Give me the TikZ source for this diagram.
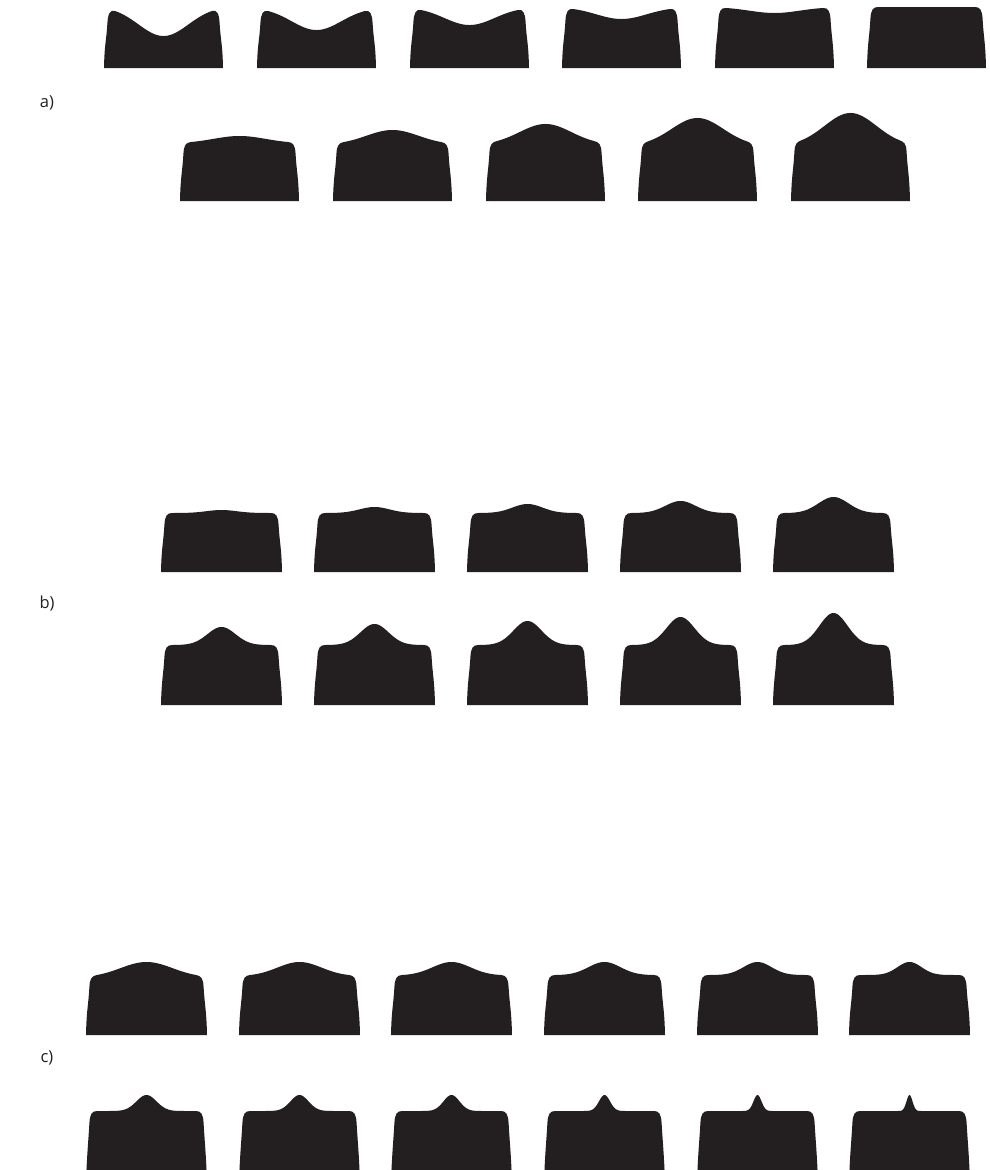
\documentclass[tikz,border=0pt]{standalone}
\usepackage{fontspec}
\setmainfont{Open Sans}
\definecolor{ink}{HTML}{231F20}
\tikzset{
  toothfill/.style={fill=ink},
  lbl/.style={text=ink, font=\fontsize{16.5}{19}\selectfont, inner sep=0pt}
}
% #1 left x, #2 width, #3 bottom y, #4 edge y, #5 centre y, #6 sigma
\newcommand{\tooth}[6]{%
  \pgfmathsetmacro{\tL}{#1}%
  \pgfmathsetmacro{\tR}{#1+#2}%
  \pgfmathsetmacro{\tLa}{#1+11}%
  \pgfmathsetmacro{\tRb}{#1+#2-11}%
  \pgfmathsetmacro{\tc}{#1+#2/2}%
  \pgfmathsetmacro{\th}{#2/2-11}%
  \pgfmathsetmacro{\tge}{exp(-(\th*\th)/(2*#6*#6))}%
  \pgfmathsetmacro{\tA}{(#4-#5)/(1-\tge)}%
  \pgfmathsetmacro{\tys}{#4+\tA*\tge}%
  \pgfmathsetmacro{\tyc}{#4+5*\tA*\tge*\th/(#6*#6)}%
  \fill[toothfill] (\tL,#3) .. controls (\tL+0.5,#3-25) and (\tL+2.4,#4+30) .. (\tL+3.4,#4+12)
    .. controls (\tL+3.9,#4+3) and (\tL+6,\tyc) .. (\tLa,#4)
    -- plot[domain=\tLa:\tRb,samples=160] (\x,{\tys-\tA*exp(-((\x-\tc)*(\x-\tc))/(2*#6*#6))})
    -- (\tRb,#4) .. controls (\tR-6,\tyc) and (\tR-3.9,#4+3) .. (\tR-3.4,#4+12)
    .. controls (\tR-2.4,#4+30) and (\tR-0.5,#3-25) .. (\tR,#3) -- cycle;
}
\begin{document}
\begin{tikzpicture}[x=1pt,y=-1pt]
\useasboundingbox (0,0) rectangle (989,1170);
\clip (0,0) rectangle (989,1170);
% a) row 1
\tooth{104}{119}{68}{11}{36}{25}
\tooth{257}{119}{68}{11}{30}{25}
\tooth{410}{119}{68}{10}{25}{25}
\tooth{562}{119}{68}{9}{19}{25}
\tooth{715}{119}{68}{8}{13}{25}
\tooth{867}{119}{68}{7}{7.2}{25}
% a) row 2
\tooth{180}{119}{201}{142}{136}{26}
\tooth{333}{119}{201}{142}{130}{26}
\tooth{486}{119}{201}{141}{124}{26}
\tooth{638}{119}{201}{141}{118}{26}
\tooth{791}{119}{201}{140}{113}{26}
% b) row 1
\tooth{161}{121}{572}{513}{510}{15}
\tooth{314}{121}{572}{513}{507}{15}
\tooth{467}{121}{572}{513}{504}{15}
\tooth{620}{121}{572}{513}{501}{15}
\tooth{773}{121}{572}{513}{497}{15}
% b) row 2
\tooth{161}{121}{705}{645}{627}{14}
\tooth{314}{121}{705}{645}{624}{14}
\tooth{467}{121}{705}{645}{621}{14}
\tooth{620}{121}{705}{645}{617}{14}
\tooth{773}{121}{705}{645}{613}{14}
% c) row 1
\tooth{86}{121}{1035}{975}{962}{26}
\tooth{239}{121}{1035}{975}{962}{22}
\tooth{391}{121}{1035}{975}{962}{19}
\tooth{544}{121}{1035}{975}{962}{16}
\tooth{697}{121}{1035}{975}{962}{14}
\tooth{849}{121}{1035}{975}{962}{12}
% c) row 2
\tooth{86}{121}{1185}{1111}{1095}{10}
\tooth{239}{121}{1185}{1111}{1095}{9}
\tooth{391}{121}{1185}{1111}{1095}{8}
\tooth{544}{121}{1185}{1111}{1095}{5.5}
\tooth{697}{121}{1185}{1111}{1095}{4}
\tooth{849}{121}{1185}{1111}{1095}{3}
% labels
\node[lbl] (la) at (47,103) {a)};
\node[lbl] (lb) at (47,604) {b)};
\node[lbl] (lc) at (47,1058) {c)};
\end{tikzpicture}
\end{document}
